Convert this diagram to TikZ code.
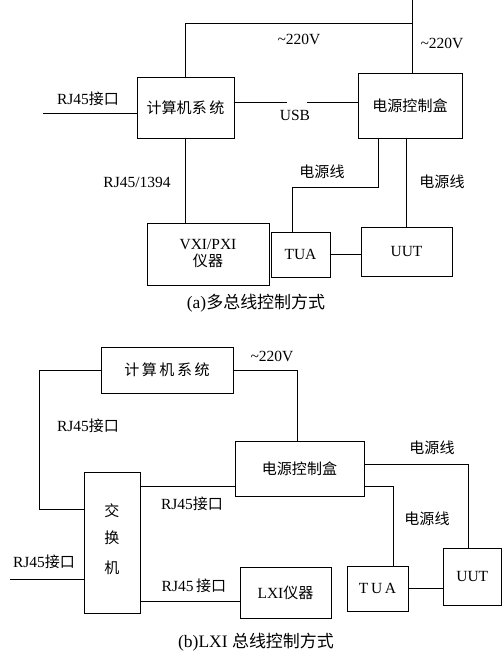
\documentclass[tikz,border=0pt]{standalone}
\usepackage{fontspec}
\setmainfont{Liberation Serif}
\newfontfamily\cjk{Noto Sans CJK SC}[Scale=0.97]
\begin{document}
\begin{tikzpicture}[x=1pt,y=-1pt,
  box/.style={draw,line width=0.9pt,inner sep=0pt,align=center},
  lbl/.style={inner sep=0pt,align=center},
  wire/.style={line width=0.9pt},
  every node/.append style={font=\fontsize{15.5}{18}\selectfont}]
\useasboundingbox (0,0) rectangle (502,655);
% ---------- (a) ----------
\node[box,minimum width=97pt,minimum height=61pt] (comA) at (185.5,107.5) {\cjk 计算机系\,统};
\node[box,minimum width=104pt,minimum height=65pt] (pwrA) at (410,105.5) {\cjk 电源控制盒};
\node[box,minimum width=122pt,minimum height=62pt] (vxi) at (208,254) {VXI/PXI\\[-1pt]{\cjk 仪器}};
\node[box,minimum width=59pt,minimum height=45pt] (tuaA) at (300.5,254.5) {TUA};
\node[box,minimum width=91pt,minimum height=49pt] (uutA) at (406.5,251.5) {UUT};
\coordinate (jA) at (412,23);
\coordinate (topA) at (412,0);
\coordinate (rjA) at (43,113);
\coordinate (usb1) at (287,102);
\coordinate (usb2) at (307,102);
\coordinate (pa) at (378,187);
\coordinate (pb) at (292,187);
\draw[wire] (comA.north) |- (jA) -- (topA);
\draw[wire] (jA) -- (jA |- pwrA.north);
\draw[wire] (rjA) -- (rjA -| comA.west);
\draw[wire] (usb1 -| comA.east) -- (usb1);
\draw[wire] (usb2) -- (usb2 -| pwrA.west);
\draw[wire] (comA.south) -- (comA.south |- vxi.north);
\draw[wire] (pa |- pwrA.south) -- (pa) -- (pb) -- (pb |- tuaA.north);
\draw[wire] (uutA.north |- pwrA.south) -- (uutA.north);
\draw[wire] (tuaA.east) -- (tuaA.east -| uutA.west);
\node[lbl] (v1) at (299,39) {\textasciitilde220V};
\node[lbl] (v2) at (442,43) {\textasciitilde220V};
\node[lbl] (rja) at (88,99) {RJ45{\cjk 接口}};
\node[lbl] (usb) at (295,115) {USB};
\node[lbl] (rj1394) at (137,182) {RJ45/1394};
\node[lbl] (dy1) at (322,172) {\cjk 电源线};
\node[lbl] (dy2) at (442,182) {\cjk 电源线};
\node[lbl,font=\fontsize{17.5}{20}\selectfont] (capa) at (256,303) {(a){\cjk 多总线控制方式}};
% ---------- (b) ----------
\node[box,minimum width=132pt,minimum height=46pt] (comB) at (167,370) {\cjk 计\,算\,机\,系\,统};
\node[box,minimum width=129pt,minimum height=55pt] (pwrB) at (299.5,468.5) {\cjk 电源控制盒};
\node[box,minimum width=56pt,minimum height=141pt] (sw) at (112,542.5) {};
\node[lbl] (sw1) at (112,511) {\cjk 交};
\node[lbl] (sw2) at (112,538) {\cjk 换};
\node[lbl] (sw3) at (112,568) {\cjk 机};
\node[box,minimum width=91pt,minimum height=51pt] (lxi) at (285.5,592.5) {LXI{\cjk 仪器}};
\node[box,minimum width=61pt,minimum height=45pt] (tuaB) at (377.5,588.5) {T\,U\,A};
\node[box,minimum width=58.5pt,minimum height=57pt] (uutB) at (472.25,576.5) {UUT};
\coordinate (b1) at (39,370);
\coordinate (b2) at (39,509);
\coordinate (b3) at (297,370);
\coordinate (b4) at (140,486);
\coordinate (b5) at (468,464);
\coordinate (b6) at (393,486);
\coordinate (b7) at (140,601);
\coordinate (b8) at (10,579);
\draw[wire] (comB.west) -- (b1) -- (b2) -- (b2 -| sw.west);
\draw[wire] (comB.east) -- (b3) -- (b3 |- pwrB.north);
\draw[wire] (b4) -- (b4 -| pwrB.west);
\draw[wire] (b5 -| pwrB.east) -- (b5) -- (b5 |- uutB.north);
\draw[wire] (b6 -| pwrB.east) -- (b6) -- (b6 |- tuaB.north);
\draw[wire] (tuaB.east) -- (tuaB.east -| uutB.west);
\draw[wire] (b7) -- (b7 -| lxi.west);
\draw[wire] (b8) -- (b8 -| sw.west);
\node[lbl] (v3) at (272,356) {\textasciitilde220V};
\node[lbl] (rjb1) at (88,426) {RJ45{\cjk 接口}};
\node[lbl] (dy3) at (432,448) {\cjk 电源线};
\node[lbl] (dy4) at (427,519) {\cjk 电源线};
\node[lbl] (rjb2) at (192,504) {RJ45{\cjk 接口}};
\node[lbl] (rjb3) at (44,562) {RJ45{\cjk 接口}};
\node[lbl] (rjb4) at (194,586) {RJ45\,{\cjk 接口}};
\node[lbl,font=\fontsize{17.5}{20}\selectfont] (capb) at (256,642) {(b)LXI {\cjk 总线控制方式}};
\end{tikzpicture}
\end{document}
